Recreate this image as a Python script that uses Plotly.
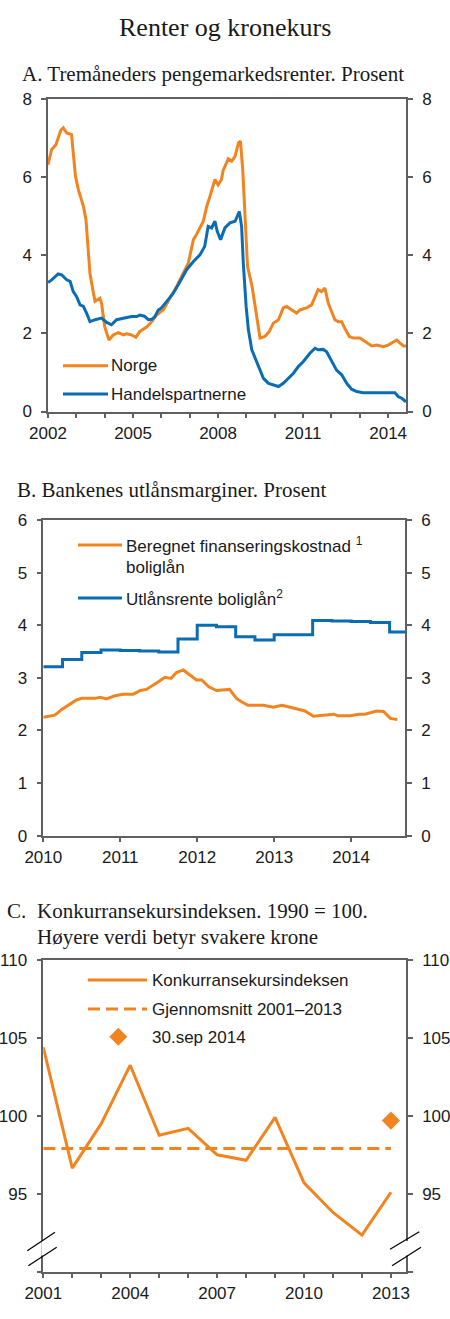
import plotly.graph_objects as go

W, H = 450, 1319
ORANGE = '#F28420'
BLUE = '#0A6DB4'
AXC = '#606060'

# A. Tremåneders pengemarkedsrenter (desimalår, prosent)
norge_x = [2002.00, 2002.13, 2002.28, 2002.45, 2002.54, 2002.66, 2002.83, 2002.97, 2003.07, 2003.25,
           2003.34, 2003.48, 2003.58, 2003.66, 2003.83, 2003.89, 2004.00, 2004.15, 2004.30, 2004.48,
           2004.66, 2004.77, 2004.95, 2005.10, 2005.24, 2005.48, 2005.66, 2005.83, 2005.98, 2006.07,
           2006.30, 2006.54, 2006.77, 2006.95, 2007.13, 2007.24, 2007.48, 2007.60, 2007.71, 2007.89,
           2008.00, 2008.12, 2008.18, 2008.36, 2008.48, 2008.60, 2008.72, 2008.79, 2008.87, 2008.96,
           2009.04, 2009.20, 2009.31, 2009.48, 2009.65, 2009.81, 2009.95, 2010.13, 2010.30, 2010.42,
           2010.60, 2010.77, 2010.89, 2011.12, 2011.30, 2011.47, 2011.53, 2011.65, 2011.77, 2011.89,
           2012.00, 2012.12, 2012.24, 2012.36, 2012.47, 2012.63, 2012.77, 2013.00, 2013.19, 2013.42,
           2013.60, 2013.83, 2014.00, 2014.18, 2014.30, 2014.42, 2014.54, 2014.65]
norge_y = [6.32, 6.71, 6.83, 7.20, 7.26, 7.13, 7.09, 6.02, 5.68, 5.25,
           4.91, 3.54, 3.12, 2.82, 2.90, 2.77, 2.17, 1.83, 1.96, 2.02,
           1.96, 1.99, 1.96, 1.90, 2.05, 2.16, 2.30, 2.47, 2.56, 2.60,
           2.90, 3.20, 3.54, 3.80, 4.40, 4.53, 4.87, 5.25, 5.50, 5.94,
           5.80, 5.94, 6.17, 6.47, 6.41, 6.53, 6.88, 6.92, 6.19, 4.83,
           3.71, 3.20, 2.69, 1.88, 1.92, 2.05, 2.26, 2.35, 2.65, 2.69,
           2.60, 2.52, 2.60, 2.65, 2.73, 3.03, 3.12, 3.07, 3.16, 2.77,
           2.56, 2.35, 2.30, 2.30, 2.13, 1.92, 1.88, 1.88, 1.79, 1.68,
           1.70, 1.66, 1.70, 1.79, 1.83, 1.75, 1.68, 1.68]

handel_x = [2002.00, 2002.13, 2002.36, 2002.48, 2002.66, 2002.78, 2002.89, 2003.01, 2003.13, 2003.25,
            2003.36, 2003.48, 2003.66, 2003.89, 2004.07, 2004.24, 2004.42, 2004.66, 2004.95, 2005.13,
            2005.24, 2005.40, 2005.54, 2005.66, 2005.77, 2005.89, 2006.00, 2006.19, 2006.42, 2006.66,
            2006.89, 2007.13, 2007.36, 2007.53, 2007.65, 2007.77, 2007.89, 2007.97, 2008.09, 2008.24,
            2008.42, 2008.60, 2008.75, 2008.83, 2008.89, 2008.99, 2009.07, 2009.19, 2009.37, 2009.48,
            2009.60, 2009.78, 2009.95, 2010.13, 2010.30, 2010.48, 2010.66, 2010.83, 2011.01, 2011.24,
            2011.42, 2011.53, 2011.71, 2011.83, 2012.00, 2012.18, 2012.36, 2012.54, 2012.71, 2012.89,
            2013.12, 2013.47, 2013.83, 2014.24, 2014.36, 2014.48, 2014.63]
handel_y = [3.30, 3.37, 3.52, 3.50, 3.37, 3.33, 3.07, 2.94, 2.73, 2.69,
            2.52, 2.30, 2.35, 2.39, 2.28, 2.22, 2.35, 2.39, 2.43, 2.43,
            2.47, 2.44, 2.35, 2.36, 2.43, 2.60, 2.65, 2.82, 3.03, 3.33,
            3.63, 3.84, 4.01, 4.23, 4.74, 4.70, 4.87, 4.61, 4.40, 4.70,
            4.83, 4.87, 5.12, 4.74, 3.80, 2.69, 2.09, 1.58, 1.28, 1.06,
            0.85, 0.72, 0.68, 0.64, 0.72, 0.85, 0.98, 1.15, 1.28, 1.49,
            1.62, 1.58, 1.59, 1.53, 1.32, 1.06, 0.94, 0.72, 0.57, 0.51,
            0.48, 0.48, 0.47, 0.48, 0.38, 0.34, 0.25]

# B. Bankenes utlånsmarginer
finans_x = [2010.00, 2010.15, 2010.24, 2010.33, 2010.43, 2010.50, 2010.58, 2010.67, 2010.74, 2010.82,
            2010.93, 2011.04, 2011.17, 2011.26, 2011.34, 2011.43, 2011.50, 2011.58, 2011.66, 2011.73,
            2011.82, 2011.91, 2011.99, 2012.06, 2012.15, 2012.25, 2012.34, 2012.42, 2012.51, 2012.57,
            2012.66, 2012.86, 2012.99, 2013.10, 2013.21, 2013.40, 2013.51, 2013.66, 2013.77, 2013.83,
            2013.99, 2014.10, 2014.18, 2014.33, 2014.42, 2014.51, 2014.60]
finans_y = [2.25, 2.29, 2.40, 2.48, 2.58, 2.61, 2.61, 2.61, 2.63, 2.60,
            2.66, 2.69, 2.69, 2.76, 2.78, 2.86, 2.93, 3.01, 2.99, 3.10,
            3.15, 3.05, 2.96, 2.96, 2.83, 2.76, 2.77, 2.78, 2.61, 2.55,
            2.48, 2.48, 2.44, 2.48, 2.44, 2.37, 2.27, 2.29, 2.31, 2.28,
            2.28, 2.31, 2.31, 2.37, 2.36, 2.23, 2.21]

utlan_x = [2010.00, 2010.25, 2010.50, 2010.75, 2011.00, 2011.25, 2011.50, 2011.75, 2012.00, 2012.25,
           2012.50, 2012.75, 2013.00, 2013.25, 2013.50, 2013.75, 2014.00, 2014.25, 2014.50, 2014.70]
utlan_y = [3.21, 3.35, 3.48, 3.53, 3.52, 3.51, 3.49, 3.74, 4.00, 3.97,
           3.78, 3.72, 3.82, 3.82, 4.09, 4.08, 4.07, 4.05, 3.87, 3.87]

# C. Konkurransekursindeksen
kki_years = list(range(2001, 2014))
kki = [104.4, 96.65, 99.5, 103.25, 98.75, 99.2, 97.5, 97.15, 99.9, 95.7, 93.8, 92.35, 95.1]
snitt = 97.9
sep2014_x = [2013]
sep2014_y = [99.7]

# tick labels
xlab_A = [2002, 2005, 2008, 2011, 2014]
xlab_B = [2010, 2011, 2012, 2013, 2014]
xlab_C = [2001, 2004, 2007, 2010, 2013]
ylab_C = [95, 100, 105, 110]


def px(x):
    return x / W


def py(y):
    return 1 - y / H


tickfont = dict(family='Liberation Sans, Arial, sans-serif', size=17, color='#1a1a1a')
minor_ticks = dict(ticks='outside', ticklen=5, tickcolor=AXC, tickwidth=1.5, showgrid=False)
base = dict(showline=True, linecolor=AXC, linewidth=1.5, ticks='outside', ticklen=5,
            tickcolor=AXC, tickwidth=1.5, showgrid=False, zeroline=False, tickfont=tickfont,
            automargin=False)
ybase = dict(base, ticklabelstandoff=6)

fig = go.Figure()

# panel A
fig.add_trace(go.Scatter(x=norge_x, y=norge_y, mode='lines', line=dict(color=ORANGE, width=3),
                         xaxis='x', yaxis='y', showlegend=False))
fig.add_trace(go.Scatter(x=handel_x, y=handel_y, mode='lines', line=dict(color=BLUE, width=3),
                         xaxis='x', yaxis='y', showlegend=False))
# panel B
fig.add_trace(go.Scatter(x=utlan_x, y=utlan_y, mode='lines', line=dict(color=BLUE, width=3, shape='hv'),
                         xaxis='x2', yaxis='y3', showlegend=False))
fig.add_trace(go.Scatter(x=finans_x, y=finans_y, mode='lines', line=dict(color=ORANGE, width=3),
                         xaxis='x2', yaxis='y3', showlegend=False))
# panel C
fig.add_trace(go.Scatter(x=[kki_years[0], kki_years[-1]], y=[snitt, snitt], mode='lines',
                         line=dict(color=ORANGE, width=3, dash='12px,6px'),
                         xaxis='x3', yaxis='y5', showlegend=False))
fig.add_trace(go.Scatter(x=kki_years, y=kki, mode='lines', line=dict(color=ORANGE, width=3),
                         xaxis='x3', yaxis='y5', showlegend=False))
fig.add_trace(go.Scatter(x=sep2014_x, y=sep2014_y, mode='markers', cliponaxis=False,
                         marker=dict(symbol='diamond', size=14, color=ORANGE),
                         xaxis='x3', yaxis='y5', showlegend=False))

# empty traces so the right-hand axes get drawn
for xa, ya in [('x', 'y2'), ('x2', 'y4'), ('x3', 'y6')]:
    fig.add_trace(go.Scatter(x=[], y=[], xaxis=xa, yaxis=ya, showlegend=False, hoverinfo='skip'))

yC = dict(ybase, range=[90, 110], tickvals=ylab_C, minor=dict(minor_ticks, tickvals=[90]))

fig.update_layout(
    width=W, height=H, margin=dict(l=0, r=0, t=0, b=0),
    paper_bgcolor='white', plot_bgcolor='white',
    xaxis=dict(base, domain=[px(48), px(406)], anchor='y', range=[2002, 2014.63], mirror=True,
               tickvals=xlab_A, minor=dict(minor_ticks, dtick=1, tick0=2002)),
    yaxis=dict(ybase, domain=[py(411.5), py(99)], anchor='x', range=[0, 8], dtick=2),
    yaxis2=dict(ybase, overlaying='y', side='right', anchor='x', range=[0, 8], dtick=2),
    xaxis2=dict(base, domain=[px(43.3), px(405)], anchor='y3', range=[2010, 2014.7], mirror=True,
                tickvals=xlab_B),
    yaxis3=dict(ybase, domain=[py(835.7), py(520)], anchor='x2', range=[0, 6], dtick=1),
    yaxis4=dict(ybase, overlaying='y3', side='right', anchor='x2', range=[0, 6], dtick=1),
    xaxis3=dict(base, domain=[px(43.3), px(406)], anchor='y5', range=[2001, 2013.52], mirror=True,
                tickvals=xlab_C, minor=dict(minor_ticks, dtick=1, tick0=2001)),
    yaxis5=dict(yC, domain=[py(1271.7), py(960)], anchor='x3'),
    yaxis6=dict(yC, overlaying='y5', side='right', anchor='x3'),
)

serif = 'Liberation Serif, Times New Roman, serif'
sans = 'Liberation Sans, Arial, sans-serif'
ann = []


def text(x, y, s, size=17, family=sans, xanchor='left'):
    ann.append(dict(x=px(x), y=py(y), xref='paper', yref='paper', text=s, showarrow=False,
                    xanchor=xanchor, yanchor='middle', align='left',
                    font=dict(family=family, size=size, color='#1a1a1a')))


text(225.5, 27, 'Renter og kronekurs', size=26, family=serif, xanchor='center')
text(20, 74, 'A. Tremåneders pengemarkedsrenter. Prosent', size=21, family=serif)
text(15, 489.5, 'B. Bankenes utlånsmarginer. Prosent', size=21, family=serif)
text(5, 911, 'C.', size=21, family=serif)
text(35, 911, 'Konkurransekursindeksen. 1990 = 100.', size=21, family=serif)
text(35, 937, 'Høyere verdi betyr svakere krone', size=21, family=serif)

# legend texts
text(109, 365.7, 'Norge')
text(109, 394, 'Handelspartnerne')
text(124, 545, 'Beregnet finanseringskostnad <sup>1</sup>')
text(124, 567, 'boliglån')
text(124, 598, 'Utlånsrente boliglån<sup>2</sup>')
text(150, 980, 'Konkurransekursindeksen')
text(150, 1009, 'Gjennomsnitt 2001–2013')
text(150, 1037, '30.sep 2014')

shapes = []


def legline(x0, x1, y, color, dash='solid'):
    shapes.append(dict(type='line', xref='paper', yref='paper', x0=px(x0), x1=px(x1), y0=py(y), y1=py(y),
                       line=dict(color=color, width=3, dash=dash)))


legline(63, 108, 365.7, ORANGE)
legline(63, 108, 394, BLUE)
legline(78, 122, 545, ORANGE)
legline(78, 122, 598, BLUE)
legline(88, 147, 980, ORANGE)
legline(88, 147, 1009, ORANGE, '12px,6px')

# legend diamond
cx, cy, r = 118.3, 1036.7, 9
shapes.append(dict(type='path', xref='paper', yref='paper', fillcolor=ORANGE, line=dict(width=0),
                   path=f'M {px(cx - r)},{py(cy)} L {px(cx)},{py(cy - r)} L {px(cx + r)},{py(cy)} '
                        f'L {px(cx)},{py(cy + r)} Z'))

# axis breaks in panel C
for ax_x, s1, s2 in [(43.3, ((27.3, 1250.7), (55, 1232.3)), ((28.3, 1265.7), (56.7, 1247.3))),
                     (406, ((390, 1249.3), (419.3, 1231.7)), ((392, 1265.7), (421, 1247.3)))]:
    shapes.append(dict(type='rect', xref='paper', yref='paper', x0=px(ax_x - 2), x1=px(ax_x + 2),
                       y0=py(1255.5), y1=py(1241), fillcolor='white', line=dict(width=0), layer='above'))
    for (a, b) in (s1, s2):
        shapes.append(dict(type='line', xref='paper', yref='paper', x0=px(a[0]), y0=py(a[1]),
                           x1=px(b[0]), y1=py(b[1]), line=dict(color='black', width=1.2), layer='above'))

fig.update_layout(annotations=ann, shapes=shapes)
# the page's default body margin would push the figure 8px down and right
fig.write_html('out.html', config={'displayModeBar': False},
               post_script="document.body.style.margin='0';")
